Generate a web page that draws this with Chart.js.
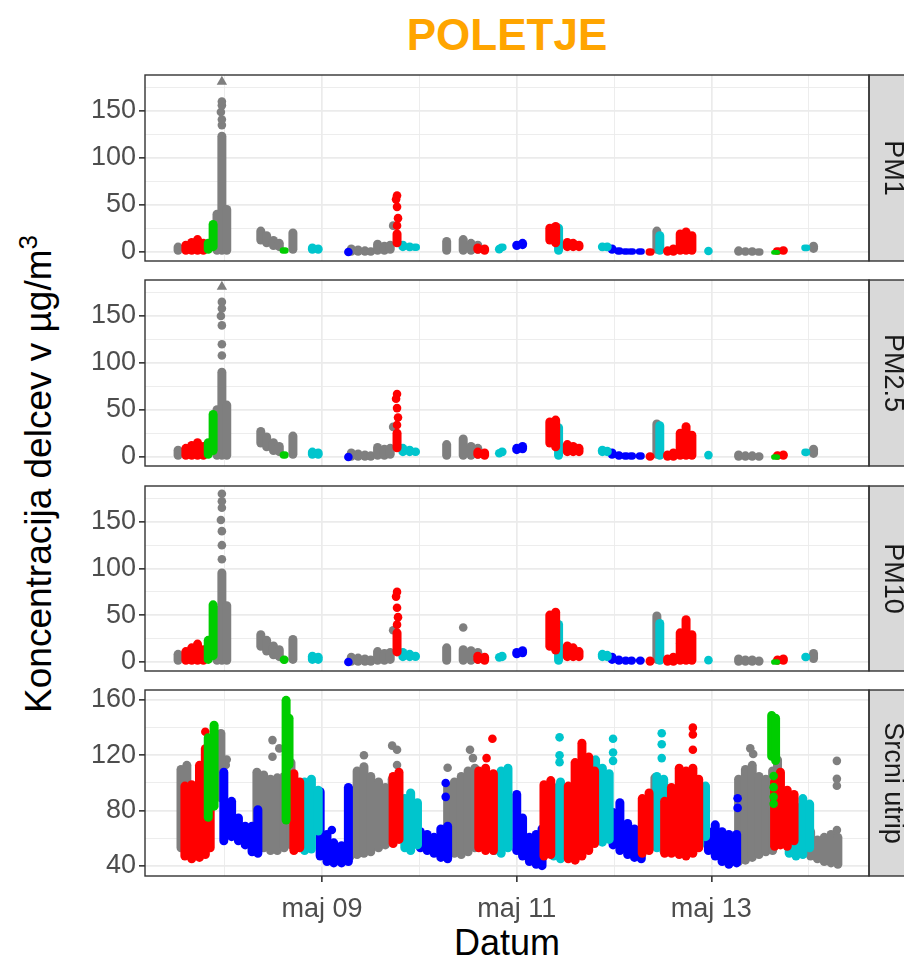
<!DOCTYPE html>
<html>
<head>
<meta charset="utf-8">
<script src="https://cdn.jsdelivr.net/npm/chart.js@4.4.0/dist/chart.umd.min.js"></script>
<style>
  body { margin: 0; background: #fff; width: 904px; height: 962px; overflow: hidden; position: relative;
         font-family: "Liberation Sans", Arial, sans-serif; }
  canvas { position: absolute; left: 0; }
  #title { position: absolute; left: 145px; width: 724px; top: 13px; text-align: center;
           font-size: 44px; line-height: 44px; font-weight: bold; color: #ffa500; }
  #xlab { position: absolute; left: 145px; width: 724px; top: 925px; text-align: center;
          font-size: 36px; line-height: 36px; color: #000; }
  #ylab { position: absolute; left: 40px; top: 474px; white-space: nowrap; font-size: 37px; line-height: 37px;
          color: #000; transform: translate(-50%, -50%) rotate(-90deg); }
  #ylab sup { font-size: 0.7em; position: relative; top: -0.55em; vertical-align: baseline; }
</style>
</head>
<body>
<div id="title">POLETJE</div>
<div id="ylab">Koncentracija delcev v µg/m<sup>3</sup></div>
<div id="xlab">Datum</div>
<canvas id="p1" width="904" height="206" style="top:65px"></canvas>
<canvas id="p2" width="904" height="206" style="top:270px"></canvas>
<canvas id="p3" width="904" height="205" style="top:476px"></canvas>
<canvas id="p4" width="904" height="282" style="top:680px"></canvas>
<script>
// x values are days of May (9.5 = 9 May 12:00)
const dayTicks = [9, 11, 13];
const dayLabels = ['maj 09', 'maj 11', 'maj 13'];
const dayMinor = [8, 10, 12, 14];
const pmTicks = [0, 50, 100, 150];
const pmMinor = [25, 75, 125, 175];
const hrTicks = [40, 80, 120, 160];
const hrMinor = [60, 100, 140];
const panelNames = ['PM1', 'PM2.5', 'PM10', 'Srcni utrip'];

// bars: [day, low, high] = extent of a dense run of points; dots: [day, value]
const pm1Gray = [[7.52, -3, 10], [7.92, -3, 45], [7.97, -3, 128], [8.02, -3, 50],
  [8.37, 8, 27], [8.43, 5, 22], [8.50, 2, 17], [8.56, 0, 14], [8.70, -2, 25],
  [9.30, -4, 8], [9.37, -4, 7], [9.44, -4, 6], [9.50, -4, 5],
  [9.57, -3, 13], [9.64, -3, 11], [9.70, -2, 12],
  [10.28, -3, 16], [10.45, -3, 18], [10.53, -3, 14], [10.60, -2, 12],
  [12.44, -2, 27],
  [13.28, -4, 6], [13.35, -4, 5], [13.42, -4, 5], [13.49, -4, 4],
  [14.05, -1, 11]];
const pm1GrayDots = [[7.97, 135], [7.97, 141], [7.96, 149], [7.97, 156], [7.97, 160], [9.73, 28], [12.68, 15]];
const pm1GrayTri = [[7.97, 181]];
const pm1Red = [[7.60, -3, 12], [7.66, -3, 15], [7.72, -3, 18], [7.78, -3, 14],
  [9.77, 5, 24], [10.60, -2, 9], [10.67, -3, 8],
  [11.34, 8, 30], [11.40, 5, 32], [11.52, 0, 15], [11.58, 0, 14], [11.64, 0, 12],
  [12.37, -4, 4], [12.55, -4, 6], [12.61, -4, 8],
  [12.68, -3, 24], [12.74, -3, 26], [12.80, -3, 22],
  [13.68, -3, 5], [13.74, -3, 6]];
const pm1RedDots = [[9.77, 60], [9.76, 56], [9.77, 48], [9.78, 36], [9.77, 28]];
const pm1Green = [[7.83, -2, 14], [7.88, 0, 34], [8.61, -2, 5], [13.66, -3, 2]];
const pm1Cyan = [[8.90, -2, 9], [8.96, -2, 8], [9.83, 0, 12], [9.90, 0, 10], [9.96, 1, 9], [10.85, 0, 9],
  [11.43, -3, 30], [11.88, 0, 10], [11.93, 0, 10], [12.47, -3, 22], [13.97, 0, 8]];
const pm1CyanDots = [[10.82, 3], [12.97, 1]];
const pm1Blue = [[11.00, 2, 12], [11.06, 3, 14], [11.98, -2, 8], [12.05, -3, 5], [12.12, -3, 4], [12.18, -3, 4], [12.27, -3, 4]];
const pm1BlueDots = [[9.27, 0]];

const pm25Gray = [[7.52, -3, 12], [7.92, -3, 55], [7.97, -3, 95], [8.02, -3, 60],
  [8.37, 10, 32], [8.43, 6, 26], [8.50, 2, 20], [8.56, 0, 16], [8.70, -2, 27],
  [9.30, -4, 9], [9.37, -4, 8], [9.44, -4, 7], [9.50, -4, 6],
  [9.57, -3, 15], [9.64, -3, 13], [9.70, -2, 14],
  [10.28, -3, 18], [10.45, -3, 24], [10.53, -3, 16], [10.60, -2, 14],
  [12.44, -2, 40],
  [13.28, -4, 7], [13.35, -4, 6], [13.42, -4, 6], [13.49, -4, 5],
  [14.05, -1, 13]];
const pm25GrayDots = [[7.97, 108], [7.97, 120], [7.97, 140], [7.96, 150], [7.97, 158], [7.97, 165], [9.73, 32], [12.68, 18]];
const pm25GrayTri = [[7.97, 181]];
const pm25Red = [[7.60, -3, 14], [7.66, -3, 17], [7.72, -3, 20], [7.78, -3, 16],
  [9.77, 5, 30], [10.60, -2, 10], [10.67, -3, 9],
  [11.34, 10, 42], [11.40, 6, 44], [11.52, 0, 18], [11.58, 0, 16], [11.64, 0, 14],
  [12.37, -4, 5], [12.55, -4, 7], [12.61, -4, 9],
  [12.68, -3, 30], [12.74, -3, 37], [12.80, -3, 28],
  [13.68, -3, 6], [13.74, -3, 7]];
const pm25RedDots = [[9.77, 67], [9.76, 62], [9.77, 52], [9.78, 42], [9.77, 34]];
const pm25Green = [[7.83, -2, 20], [7.88, 2, 50], [8.61, -2, 6], [13.66, -3, 3]];
const pm25Cyan = [[8.90, -2, 10], [8.96, -2, 9], [9.83, 0, 14], [9.90, 0, 12], [9.96, 1, 10], [10.85, 0, 10],
  [11.43, -3, 36], [11.88, 0, 12], [11.93, 0, 11], [12.47, -3, 38], [13.97, 0, 9]];
const pm25CyanDots = [[10.82, 4], [12.97, 2]];
const pm25Blue = [[11.00, 3, 14], [11.06, 4, 16], [11.98, -2, 9], [12.05, -3, 6], [12.12, -3, 5], [12.18, -3, 5], [12.27, -3, 5]];
const pm25BlueDots = [[9.27, 0]];

const pm10Gray = [[7.52, -3, 13], [7.92, -3, 60], [7.97, -3, 100], [8.02, -3, 65],
  [8.37, 12, 34], [8.43, 7, 28], [8.50, 3, 22], [8.56, 0, 18], [8.70, -2, 29],
  [9.30, -4, 10], [9.37, -4, 9], [9.44, -4, 8], [9.50, -4, 7],
  [9.57, -3, 16], [9.64, -3, 14], [9.70, -2, 15],
  [10.28, -3, 20], [10.45, -3, 18], [10.53, -3, 17], [10.60, -2, 15],
  [12.44, -2, 54],
  [13.28, -4, 8], [13.35, -4, 7], [13.42, -4, 7], [13.49, -4, 6],
  [14.05, -1, 14]];
const pm10GrayDots = [[7.97, 110], [7.97, 125], [7.97, 140], [7.96, 152], [7.97, 165], [7.97, 172], [7.97, 180],
  [9.73, 34], [10.45, 37], [12.68, 20]];
const pm10Red = [[7.60, -3, 16], [7.66, -3, 20], [7.72, -3, 24], [7.78, -3, 18],
  [9.77, 6, 36], [10.60, -2, 11], [10.67, -3, 10],
  [11.34, 12, 55], [11.40, 8, 58], [11.52, 0, 22], [11.58, 0, 20], [11.64, 0, 16],
  [12.37, -4, 6], [12.55, -4, 8], [12.61, -4, 10],
  [12.68, -3, 36], [12.74, -3, 50], [12.80, -3, 34],
  [13.68, -3, 7], [13.74, -3, 8]];
const pm10RedDots = [[9.77, 75], [9.76, 70], [9.77, 58], [9.78, 48], [9.77, 40]];
const pm10Green = [[7.83, -2, 28], [7.88, 2, 66], [8.61, -2, 7], [13.66, -3, 3]];
const pm10Cyan = [[8.90, -2, 11], [8.96, -2, 10], [9.83, 0, 15], [9.90, 0, 13], [9.96, 1, 11], [10.85, 0, 11],
  [11.43, -3, 45], [11.88, 0, 13], [11.93, 0, 12], [12.47, -3, 46], [13.97, 0, 10]];
const pm10CyanDots = [[10.82, 5], [12.97, 2]];
const pm10Blue = [[11.00, 4, 15], [11.06, 5, 17], [11.98, -2, 10], [12.05, -3, 7], [12.12, -3, 6], [12.18, -3, 6], [12.27, -3, 6]];
const pm10BlueDots = [[9.27, 0]];

const hrGray = [[7.55, 50, 113], [7.61, 46, 116], [7.96, 86, 139],
  [8.33, 58, 111], [8.40, 50, 109], [8.47, 48, 106], [8.54, 48, 107], [8.61, 50, 108], [8.68, 52, 118],
  [9.29, 44, 98], [9.36, 45, 112], [9.43, 46, 115], [9.50, 47, 108], [9.58, 50, 104], [9.65, 52, 100], [9.72, 55, 106],
  [10.29, 48, 100], [10.36, 46, 104], [10.43, 45, 108], [10.50, 47, 112], [10.57, 50, 114],
  [12.42, 53, 107], [12.83, 54, 73],
  [13.28, 40, 106], [13.35, 41, 113], [13.42, 43, 116], [13.49, 45, 108], [13.56, 47, 106], [13.63, 48, 112], [13.68, 100, 120],
  [14.02, 44, 68], [14.09, 42, 62], [14.16, 40, 64], [14.23, 39, 66], [14.30, 38, 64]];
const hrGrayDots = [[8.01, 113], [8.02, 117], [8.49, 131], [8.49, 119], [8.56, 125], [9.43, 120], [9.72, 127],
  [9.77, 124], [9.77, 113], [10.29, 111], [10.52, 124], [10.55, 118], [13.40, 125], [13.43, 121],
  [14.29, 116], [14.29, 103], [14.29, 98], [14.29, 66]];
const hrRed = [[7.59, 44, 101], [7.66, 42, 102], [7.74, 43, 116], [7.80, 45, 128], [7.85, 50, 90],
  [8.71, 48, 110], [8.77, 50, 104], [9.73, 53, 108], [9.79, 56, 111],
  [10.61, 50, 112], [10.68, 48, 114], [10.76, 48, 110], [11.28, 44, 102], [11.35, 45, 105],
  [11.53, 42, 101], [11.60, 41, 118], [11.67, 44, 132], [11.74, 48, 122], [11.80, 53, 112],
  [12.29, 46, 92], [12.36, 48, 96],
  [12.52, 46, 90], [12.59, 46, 100], [12.67, 45, 114], [12.74, 44, 112], [12.81, 46, 114], [12.87, 50, 106],
  [13.65, 51, 104], [13.71, 52, 111], [13.78, 51, 98], [13.85, 55, 95]];
const hrRedDots = [[7.80, 137], [10.69, 118], [10.75, 132], [12.81, 140], [12.81, 135], [12.81, 124]];
const hrGreen = [[7.83, 72, 136], [7.89, 80, 145], [8.63, 70, 163], [8.66, 110, 150], [13.62, 116, 152], [13.66, 113, 150]];
const hrGreenDots = [[13.64, 105], [13.64, 97], [13.64, 90], [13.64, 85]];
const hrBlue = [[7.99, 55, 111], [8.07, 58, 90], [8.14, 55, 78], [8.21, 52, 72], [8.28, 47, 72], [8.34, 46, 84],
  [8.98, 44, 97], [9.05, 40, 66], [9.12, 39, 60], [9.20, 39, 58], [9.27, 40, 100],
  [10.01, 50, 68], [10.08, 48, 66], [10.15, 46, 64], [10.22, 43, 70], [10.29, 42, 72],
  [11.00, 48, 95], [11.06, 44, 78], [11.13, 40, 64], [11.20, 38, 66], [11.26, 37, 70],
  [11.99, 52, 82], [12.06, 48, 89], [12.14, 45, 74], [12.21, 43, 70], [12.28, 42, 66],
  [12.97, 48, 68], [13.04, 44, 73], [13.11, 40, 68], [13.18, 38, 66], [13.26, 39, 66]];
const hrBlueDots = [[9.10, 66], [10.27, 100], [10.27, 90], [13.27, 89], [13.27, 82]];
const hrCyan = [[8.82, 48, 104], [8.89, 49, 106], [8.96, 62, 98],
  [9.85, 50, 92], [9.91, 48, 96], [9.98, 52, 89],
  [10.77, 48, 108], [10.84, 46, 112], [10.91, 50, 114],
  [11.38, 44, 100], [11.45, 42, 104], [11.81, 55, 120], [11.88, 54, 114], [11.95, 56, 110],
  [12.44, 50, 108], [12.51, 48, 106], [12.88, 52, 95], [12.94, 58, 101],
  [13.80, 46, 80], [13.87, 44, 86], [13.94, 45, 92], [14.01, 50, 88]];
const hrCyanDots = [[11.44, 133], [11.44, 120], [11.44, 115], [11.99, 132], [11.99, 122], [11.99, 116],
  [12.49, 136], [12.49, 128], [12.49, 118]];

const colours = { gray: '#7f7f7f', blue: '#0000ff', cyan: '#00c5cd', red: '#ff0000', green: '#00cd00' };
const layer = { gray: 5, blue: 4, cyan: 3, red: 2, green: 1 };
const FONT = '"Liberation Sans", Arial, sans-serif';

function makeSets(series) {
  const out = [];
  series.forEach(([key, bars, dots, tris]) => {
    // ungrouped bars: width = min(maxBarThickness, gap * percentages), so a large percentage pins it at 9px
    out.push({
      type: 'bar', data: bars.map(b => ({ x: b[0], y: [b[1], b[2]] })),
      backgroundColor: colours[key], maxBarThickness: 9, barPercentage: 1000, categoryPercentage: 1,
      borderRadius: 4.5, borderSkipped: false, grouped: false, order: layer[key]
    });
    if (dots) out.push({
      type: 'scatter', data: dots.map(d => ({ x: d[0], y: d[1] })),
      backgroundColor: colours[key], pointRadius: 4.3, borderWidth: 0, order: layer[key]
    });
    if (tris) out.push({
      type: 'scatter', data: tris.map(d => ({ x: d[0], y: d[1] })), pointStyle: 'triangle',
      backgroundColor: colours[key], pointRadius: 6, borderWidth: 0, order: layer[key]
    });
  });
  return out;
}

const framePlugin = {
  id: 'frame',
  afterDraw(chart, args, opts) {
    const { ctx, chartArea: a } = chart;
    ctx.save();
    ctx.fillStyle = '#d9d9d9';
    ctx.fillRect(a.right, a.top, 45, a.bottom - a.top);
    ctx.strokeStyle = '#333333';
    ctx.lineWidth = 1.4;
    ctx.strokeRect(a.left, a.top, a.right - a.left, a.bottom - a.top);
    ctx.strokeRect(a.right, a.top, 45, a.bottom - a.top);
    ctx.translate(a.right + 16, (a.top + a.bottom) / 2);
    ctx.rotate(Math.PI / 2);
    ctx.fillStyle = '#1a1a1a';
    ctx.font = '27px ' + FONT;
    ctx.textAlign = 'center';
    ctx.textBaseline = 'alphabetic';
    ctx.fillText(opts.label, 0, 0);
    ctx.restore();
  }
};

function makePanel(id, idx, sets, yMin, yMax, yMajor, yMinor, last) {
  const xAll = dayTicks.concat(dayMinor).sort((a, b) => a - b);
  const yAll = yMajor.concat(yMinor).sort((a, b) => a - b);
  new Chart(document.getElementById(id), {
    type: 'bar',
    data: { datasets: sets },
    options: {
      responsive: false, animation: false,
      layout: { padding: { left: 0, right: 35, top: 10, bottom: last ? 0 : 10 } },
      plugins: { legend: { display: false }, tooltip: { enabled: false }, frame: { label: panelNames[idx] } },
      scales: {
        x: {
          type: 'linear', min: 7.18, max: 14.62, offset: false,
          afterBuildTicks: s => { s.ticks = xAll.map(v => ({ value: v })); },
          afterFit: s => { s.height = last ? 86 : 0; s.paddingLeft = 0; s.paddingRight = 0; },
          border: { display: false },
          grid: {
            offset: false, color: '#ebebeb', drawTicks: last, tickLength: 6,
            lineWidth: c => dayTicks.includes(c.tick.value) ? 1.7 : 0.9,
            tickWidth: 1.6,
            tickColor: c => dayTicks.includes(c.tick.value) ? '#333333' : 'rgba(0,0,0,0)'
          },
          ticks: {
            display: last, autoSkip: false, maxRotation: 0, padding: 11, color: '#4d4d4d',
            font: { size: 27, family: FONT },
            callback: v => dayTicks.includes(v) ? dayLabels[dayTicks.indexOf(v)] : ''
          }
        },
        y: {
          type: 'linear', min: yMin, max: yMax,
          afterBuildTicks: s => { s.ticks = yAll.map(v => ({ value: v })); },
          afterFit: s => { s.width = 145; s.paddingTop = 0; s.paddingBottom = 0; },
          border: { display: false },
          grid: {
            color: '#ebebeb', tickLength: 6,
            lineWidth: c => yMajor.includes(c.tick.value) ? 1.7 : 0.9,
            tickWidth: 1.6,
            tickColor: c => yMajor.includes(c.tick.value) ? '#333333' : 'rgba(0,0,0,0)'
          },
          ticks: {
            autoSkip: false, padding: 3, color: '#4d4d4d', font: { size: 27, family: FONT },
            callback: v => yMajor.includes(v) ? String(v) : ''
          }
        }
      }
    },
    plugins: [framePlugin]
  });
}

makePanel('p1', 0, makeSets([
  ['gray', pm1Gray, pm1GrayDots, pm1GrayTri], ['blue', pm1Blue, pm1BlueDots], ['cyan', pm1Cyan, pm1CyanDots],
  ['red', pm1Red, pm1RedDots], ['green', pm1Green]
]), -9.6, 188.3, pmTicks, pmMinor, false);
makePanel('p2', 1, makeSets([
  ['gray', pm25Gray, pm25GrayDots, pm25GrayTri], ['blue', pm25Blue, pm25BlueDots], ['cyan', pm25Cyan, pm25CyanDots],
  ['red', pm25Red, pm25RedDots], ['green', pm25Green]
]), -9.6, 188.3, pmTicks, pmMinor, false);
makePanel('p3', 2, makeSets([
  ['gray', pm10Gray, pm10GrayDots], ['blue', pm10Blue, pm10BlueDots], ['cyan', pm10Cyan, pm10CyanDots],
  ['red', pm10Red, pm10RedDots], ['green', pm10Green]
]), -9.6, 188.3, pmTicks, pmMinor, false);
makePanel('p4', 3, makeSets([
  ['gray', hrGray, hrGrayDots], ['blue', hrBlue, hrBlueDots], ['cyan', hrCyan, hrCyanDots],
  ['red', hrRed, hrRedDots], ['green', hrGreen, hrGreenDots]
]), 32.8, 167.2, hrTicks, hrMinor, true);
</script>
</body>
</html>
